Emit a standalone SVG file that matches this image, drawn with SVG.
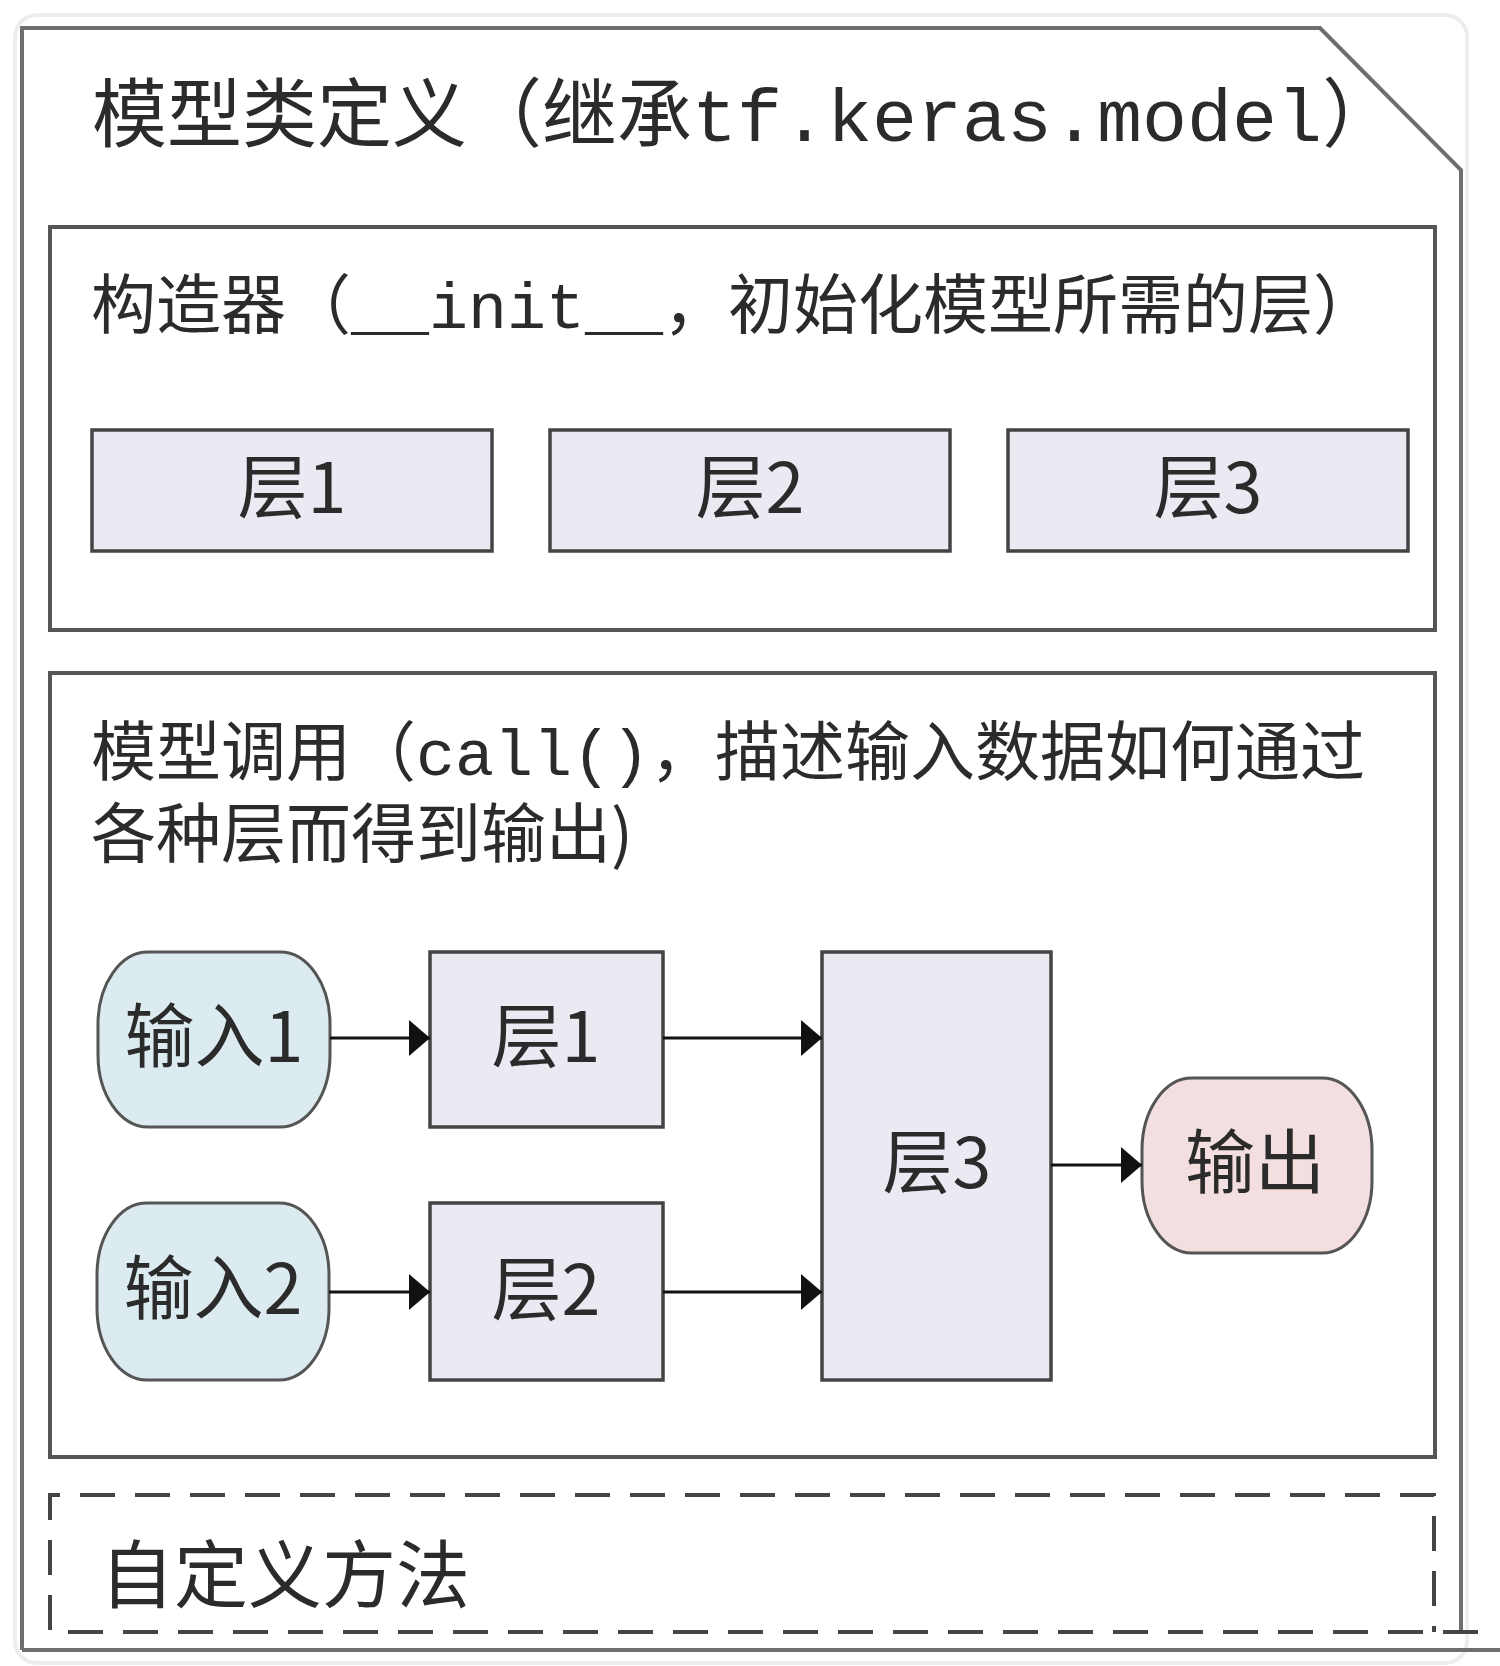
<svg xmlns="http://www.w3.org/2000/svg" width="1500" height="1666" viewBox="0 0 1500 1666">
<defs>
<style>
.cjk{font-family:"Noto Sans CJK SC","Noto Sans",sans-serif;fill:#2b2b2b;}
.mono{font-family:"Liberation Mono","DejaVu Sans Mono",monospace;}
.frame{fill:none;stroke:#6e6e6e;stroke-width:4;}
.section{fill:#ffffff;stroke:#555;stroke-width:4;}
.layer{fill:#ebe9f2;stroke:#444;stroke-width:3.5;}
.input{fill:#dcebf0;stroke:#555;stroke-width:3;}
.output{fill:#f3dfdf;stroke:#555;stroke-width:3;}
.conn{fill:none;stroke:#111;stroke-width:3;}
.dash{fill:none;stroke:#444;stroke-width:4;stroke-dasharray:35 20;}
</style>
<marker id="arrow" markerUnits="userSpaceOnUse" markerWidth="22" markerHeight="40" refX="21" refY="20" orient="auto">
<path d="M0,2 L21,20 L0,38 Z" fill="#111"/>
</marker>
</defs>
<rect x="0" y="0" width="1500" height="1666" fill="#ffffff"/>
<rect x="15" y="15" width="1452" height="1648" rx="22" fill="none" stroke="#ededed" stroke-width="4"/>

<g id="model-class">
<path class="frame" d="M22,1650 V28 H1320 L1461,170 V1630"/>
<line x1="22" y1="1650" x2="1500" y2="1650" stroke="#6e6e6e" stroke-width="4"/>
<text class="cjk" x="92" y="141" font-size="75">模型类定义（继承<tspan class="mono">tf.keras.model</tspan>）</text>
</g>

<g id="constructor">
<rect class="section" x="50" y="227" width="1385" height="403"/>
<text class="cjk" x="91" y="328" font-size="65">构造器（<tspan class="mono">__init__</tspan>，初始化模型所需的层）</text>
</g>

<g id="init-layer1">
<rect class="layer" x="92" y="430" width="400" height="121"/>
<text class="cjk" x="292" y="513" font-size="70" text-anchor="middle">层1</text>
</g>
<g id="init-layer2">
<rect class="layer" x="550" y="430" width="400" height="121"/>
<text class="cjk" x="750" y="513" font-size="70" text-anchor="middle">层2</text>
</g>
<g id="init-layer3">
<rect class="layer" x="1008" y="430" width="400" height="121"/>
<text class="cjk" x="1208" y="513" font-size="70" text-anchor="middle">层3</text>
</g>

<g id="call">
<rect class="section" x="50" y="673" width="1385" height="784"/>
<text class="cjk" x="91" y="775" font-size="65">模型调用（<tspan class="mono">call()</tspan>，描述输入数据如何通过</text>
<text class="cjk" x="91" y="857" font-size="65">各种层而得到输出)</text>
</g>

<g id="input1">
<rect class="input" x="98" y="952" width="232" height="175" rx="50" ry="72"/>
<text class="cjk" x="214" y="1062" font-size="70" text-anchor="middle">输入1</text>
</g>
<g id="input2">
<rect class="input" x="97" y="1203" width="232" height="177" rx="50" ry="72"/>
<text class="cjk" x="213" y="1314" font-size="70" text-anchor="middle">输入2</text>
</g>
<g id="call-layer1">
<rect class="layer" x="430" y="952" width="233" height="175"/>
<text class="cjk" x="546" y="1062" font-size="70" text-anchor="middle">层1</text>
</g>
<g id="call-layer2">
<rect class="layer" x="430" y="1203" width="233" height="177"/>
<text class="cjk" x="546" y="1315" font-size="70" text-anchor="middle">层2</text>
</g>
<g id="call-layer3">
<rect class="layer" x="822" y="952" width="229" height="428"/>
<text class="cjk" x="937" y="1188" font-size="70" text-anchor="middle">层3</text>
</g>
<g id="output">
<rect class="output" x="1142" y="1078" width="230" height="175" rx="50" ry="72"/>
<text class="cjk" x="1255" y="1188" font-size="70" text-anchor="middle">输出</text>
</g>

<g id="connectors">
<line class="conn" x1="330" y1="1038" x2="430" y2="1038" marker-end="url(#arrow)"/>
<line class="conn" x1="329" y1="1292" x2="430" y2="1292" marker-end="url(#arrow)"/>
<line class="conn" x1="663" y1="1038" x2="822" y2="1038" marker-end="url(#arrow)"/>
<line class="conn" x1="663" y1="1292" x2="822" y2="1292" marker-end="url(#arrow)"/>
<line class="conn" x1="1051" y1="1165" x2="1142" y2="1165" marker-end="url(#arrow)"/>
</g>

<g id="custom-methods">
<path class="dash" d="M1478,1632 H50 V1495 H1434 V1632"/>
<text class="cjk" x="100" y="1602" font-size="74">自定义方法</text>
</g>
</svg>
